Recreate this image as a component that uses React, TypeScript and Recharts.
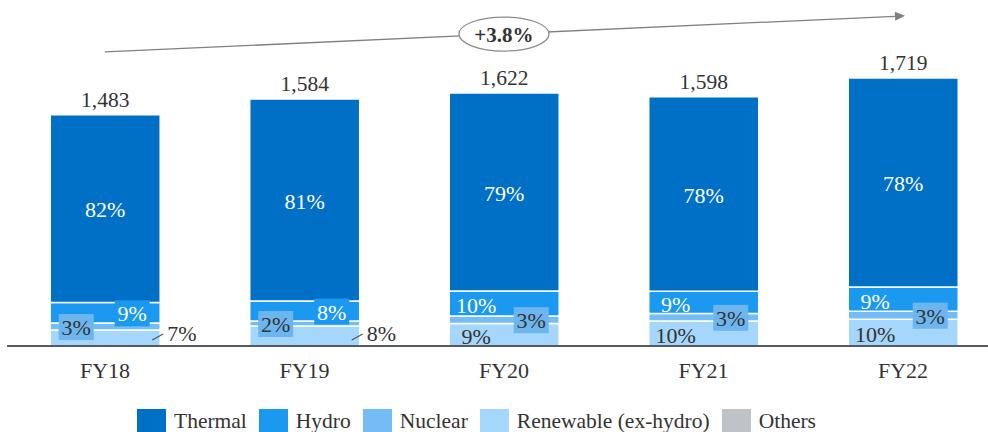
import React from "react";
import {
  Bar,
  BarChart,
  LabelList,
  ReferenceDot,
  ReferenceLine,
  XAxis,
  YAxis,
} from "recharts";

const categories = ["FY18", "FY19", "FY20", "FY21", "FY22"];
const totals = [1483, 1584, 1622, 1598, 1719];
const thermalPct = [82, 81, 79, 78, 78];
const hydroPct = [9, 8, 10, 9, 9];
const nuclearPct = [3, 2, 3, 3, 3];
const renewablePct = [7, 8, 9, 10, 10];
const othersPct = [0, 0, 0, 0, 0];
const cagrLabel = "+3.8%";

const COLORS = {
  thermal: "#0070c6",
  hydro: "#1b98ef",
  nuclear: "#74bcf4",
  renewable: "#a5d6fb",
  others: "#c0c2c9",
};
const TEXT = "#333333";
const FONT = '"Liberation Serif", "Times New Roman", serif';

// stack the shares so that each column ends at its total
const data = categories.map((c, i) => {
  const sum =
    thermalPct[i] + hydroPct[i] + nuclearPct[i] + renewablePct[i] + othersPct[i];
  const part = (p: number) => (totals[i] * p) / sum;
  return {
    idx: i,
    name: c,
    total: totals[i],
    thermal: part(thermalPct[i]),
    hydro: part(hydroPct[i]),
    nuclear: part(nuclearPct[i]),
    renewable: part(renewablePct[i]),
    others: part(othersPct[i]),
  };
});

// where the small-segment labels sit
const hydroPlace = ["boxRight", "boxRight", "left", "left", "left"];
const nuclearPlace = ["boxLeft", "boxLeft", "boxRight", "boxRight", "boxRight"];
const renewPlace = ["outside", "outside", "left", "left", "left"];

const makeLabel =
  (pcts: number[], places: string[] | null, fill: string, boxFill?: string) =>
  (props: any) => {
    const { x, y, width, height, index } = props;
    const txt = `${pcts[index]}%`;
    const place = places ? places[index] : "center";
    let cx = x + width / 2;
    let cy = y + height / 2;
    if (place === "left") {
      cx = x + 27;
      cy = cy + 1;
    }
    if (place === "boxLeft") cx = x + 26;
    if (place === "boxRight") cx = x + 82;
    if (place === "outside") {
      const right = x + width;
      const base = y + height;
      return (
        <g>
          <line
            x1={right - 8}
            y1={base - 6}
            x2={right + 3}
            y2={base - 12}
            stroke="#555"
            strokeWidth={1.2}
          />
          <text
            x={right + 7}
            y={base - 13}
            fill={TEXT}
            fontSize={22}
            fontFamily={FONT}
            dominantBaseline="central"
          >
            {txt}
          </text>
        </g>
      );
    }
    const boxed = place === "boxLeft" || place === "boxRight";
    return (
      <g>
        {boxed && (
          <rect
            x={cx - 17.5}
            y={cy - 12.5}
            width={35}
            height={26}
            fill={boxFill}
          />
        )}
        <text
          x={cx}
          y={cy + 1}
          fill={boxed ? (boxFill === COLORS.hydro ? "#fff" : TEXT) : fill}
          fontSize={22}
          fontFamily={FONT}
          textAnchor="middle"
          dominantBaseline="central"
        >
          {txt}
        </text>
      </g>
    );
  };

const TotalLabel = (props: any) => {
  const { x, y, width, index } = props;
  return (
    <text
      x={x + width / 2}
      y={y - 8}
      fill={TEXT}
      fontSize={21.5}
      fontFamily={FONT}
      textAnchor="middle"
    >
      {totals[index].toLocaleString("en-US")}
    </text>
  );
};

const ArrowShape = (props: any) => {
  const { x1, y1, x2, y2 } = props;
  const ang = Math.atan2(y2 - y1, x2 - x1);
  const len = 10;
  const hx = x2 + Math.cos(ang) * 2;
  const hy = y2 + Math.sin(ang) * 2;
  const bx = hx - Math.cos(ang) * len;
  const by = hy - Math.sin(ang) * len;
  const nx = -Math.sin(ang) * 4.5;
  const ny = Math.cos(ang) * 4.5;
  return (
    <g>
      <line x1={x1} y1={y1} x2={bx} y2={by} stroke="#7f7f85" strokeWidth={1.3} />
      <polygon
        points={`${hx},${hy} ${bx + nx},${by + ny} ${bx - nx},${by - ny}`}
        fill="#7f7f85"
      />
    </g>
  );
};

const CagrBubble = (props: any) => {
  const { cx, cy } = props;
  return (
    <g>
      <ellipse
        cx={cx}
        cy={cy}
        rx={45}
        ry={17}
        fill="#fff"
        stroke="#8a8a90"
        strokeWidth={1.3}
      />
      <text
        x={cx}
        y={cy + 1}
        fill={TEXT}
        fontSize={21}
        fontWeight="bold"
        fontFamily={FONT}
        textAnchor="middle"
        dominantBaseline="central"
      >
        {cagrLabel}
      </text>
    </g>
  );
};

const legendItems = [
  { label: "Thermal", color: COLORS.thermal },
  { label: "Hydro", color: COLORS.hydro },
  { label: "Nuclear", color: COLORS.nuclear },
  { label: "Renewable (ex-hydro)", color: COLORS.renewable },
  { label: "Others", color: COLORS.others },
];

export default function App() {
  const sep = { stroke: "#ffffff", strokeWidth: 1.5 };
  return (
    <div
      style={{
        position: "absolute",
        left: 0,
        top: 0,
        width: 988,
        height: 432,
        background: "#fff",
        overflow: "hidden",
      }}
    >
      <BarChart
        width={988}
        height={432}
        data={data}
        margin={{ top: 3, right: 0, left: 7, bottom: 46 }}
      >
        <XAxis
          type="number"
          dataKey="idx"
          domain={[-0.491, 4.426]}
          ticks={[0, 1, 2, 3, 4]}
          tickFormatter={(v: number) => categories[v]}
          allowDataOverflow
          height={40}
          tickLine={false}
          tickMargin={10}
          axisLine={{ stroke: "#555a64", strokeWidth: 2 }}
          tick={{ fill: TEXT, fontSize: 22, fontFamily: FONT }}
        />
        <YAxis hide domain={[0, 2200]} allowDataOverflow />
        <Bar dataKey="renewable" stackId="a" fill={COLORS.renewable} barSize={110} {...sep} isAnimationActive={false}>
          <LabelList content={makeLabel(renewablePct, renewPlace, TEXT)} />
        </Bar>
        <Bar dataKey="nuclear" stackId="a" fill={COLORS.nuclear} barSize={110} {...sep} isAnimationActive={false}>
          <LabelList content={makeLabel(nuclearPct, nuclearPlace, TEXT, "#6db5ee")} />
        </Bar>
        <Bar dataKey="hydro" stackId="a" fill={COLORS.hydro} barSize={110} {...sep} isAnimationActive={false}>
          <LabelList content={makeLabel(hydroPct, hydroPlace, "#fff", COLORS.hydro)} />
        </Bar>
        <Bar dataKey="others" stackId="a" fill={COLORS.others} barSize={110} isAnimationActive={false} />
        <Bar dataKey="thermal" stackId="a" fill={COLORS.thermal} barSize={110} {...sep} isAnimationActive={false}>
          <LabelList content={makeLabel(thermalPct, null, "#fff")} />
          <LabelList content={TotalLabel} />
        </Bar>
        <ReferenceLine
          segment={[
            { x: 0, y: 1886 },
            { x: 4, y: 2117 },
          ]}
          shape={ArrowShape}
          ifOverflow="visible"
        />
        <ReferenceDot x={2} y={2001} shape={CagrBubble} ifOverflow="visible" />
      </BarChart>
      <div
        style={{
          position: "absolute",
          left: 137,
          top: 409,
          display: "flex",
          alignItems: "center",
          fontFamily: FONT,
          fontSize: 21.5,
          lineHeight: "22px",
          color: TEXT,
        }}
      >
        {legendItems.map((it) => (
          <div
            key={it.label}
            style={{ display: "flex", alignItems: "center", marginRight: 12 }}
          >
            <span
              style={{
                width: 29,
                height: 23,
                background: it.color,
                display: "inline-block",
                marginRight: 8,
              }}
            />
            <span>{it.label}</span>
          </div>
        ))}
      </div>
    </div>
  );
}
